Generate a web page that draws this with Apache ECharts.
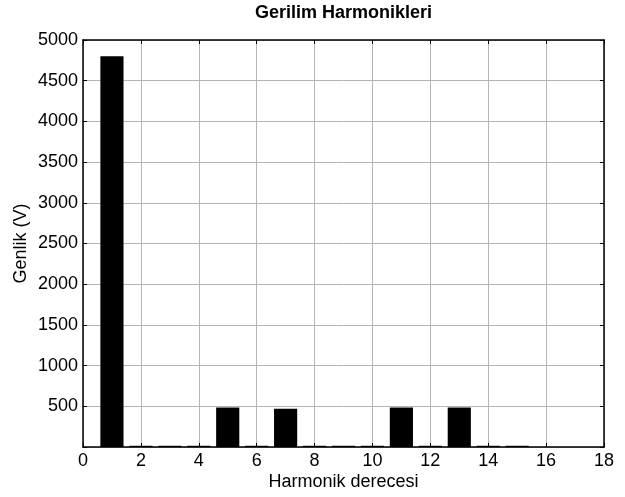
<!DOCTYPE html>
<html>
<head>
<meta charset="utf-8">
<script src="https://cdn.jsdelivr.net/npm/echarts@6/dist/echarts.min.js"></script>
<style>
  html, body { margin: 0; padding: 0; background: #fff; }
  #chart { width: 625px; height: 497px; }
</style>
</head>
<body>
<div id="chart"></div>
<script>
// Harmonic orders and their voltage amplitudes (V)
const harmonicOrders = [1, 2, 3, 4, 5, 6, 7, 8, 9, 10, 11, 12, 13, 14, 15, 16, 17];
const amplitudes     = [4800, 15, 15, 15, 485, 15, 470, 15, 15, 15, 485, 15, 485, 15, 15, 0, 0];
const xTicks = [0, 2, 4, 6, 8, 10, 12, 14, 16, 18];
const yTicks = [500, 1000, 1500, 2000, 2500, 3000, 3500, 4000, 4500, 5000];

const FONT = '"Liberation Sans", Arial, sans-serif';
const chart = echarts.init(document.getElementById('chart'), null, { renderer: 'canvas' });

const gridLeft = 83, gridRight = 21, gridTop = 40, gridBottom = 50;
const plotW = 625 - gridLeft - gridRight;
const xMin = xTicks[0], xMax = xTicks[xTicks.length - 1];
const barW = 0.8 * plotW / (xMax - xMin);

const tickStyle = { show: true, inside: true, length: 4, lineStyle: { color: '#000', width: 1 } };
const gridStyle = { show: true, lineStyle: { color: '#b4b4b4', width: 1, type: 'solid' } };
const labelStyle = { fontFamily: FONT, fontSize: 18, color: '#000' };

chart.setOption({
  animation: false,
  backgroundColor: '#fff',
  graphic: [{
    type: 'text',
    x: gridLeft + plotW / 2,
    y: 13,
    style: {
      text: 'Gerilim Harmonikleri',
      font: 'bold 18px ' + FONT,
      fill: '#000',
      textAlign: 'center',
      textVerticalAlign: 'middle'
    }
  }],
  grid: { left: gridLeft, right: gridRight, top: gridTop, bottom: gridBottom, containLabel: false },
  xAxis: [{
    type: 'value',
    min: xMin, max: xMax, interval: 2,
    name: 'Harmonik derecesi',
    nameLocation: 'middle',
    nameGap: 26,
    nameMoveOverlap: false,
    nameTextStyle: labelStyle,
    axisLine: { show: true, onZero: false, lineStyle: { color: '#000', width: 1.5 } },
    axisTick: tickStyle,
    axisLabel: Object.assign({ margin: 5, formatter: v => xTicks.includes(v) ? String(v) : '' }, labelStyle),
    splitLine: gridStyle
  }, {
    type: 'value', position: 'top',
    min: xMin, max: xMax, interval: 2,
    axisLine: { show: true, onZero: false, lineStyle: { color: '#000', width: 1.5 } },
    axisTick: tickStyle,
    axisLabel: { show: false },
    splitLine: { show: false }
  }],
  yAxis: [{
    type: 'value',
    min: 0, max: 5000, interval: 500,
    name: 'Genlik (V)',
    nameLocation: 'middle',
    nameGap: 53,
    nameMoveOverlap: false,
    nameTextStyle: labelStyle,
    axisLine: { show: true, onZero: false, lineStyle: { color: '#000', width: 1.5 } },
    axisTick: tickStyle,
    axisLabel: Object.assign({ margin: 5, formatter: v => yTicks.includes(v) ? String(v) : '' }, labelStyle),
    splitLine: gridStyle
  }, {
    type: 'value', position: 'right',
    min: 0, max: 5000, interval: 500,
    axisLine: { show: true, onZero: false, lineStyle: { color: '#000', width: 1.5 } },
    axisTick: tickStyle,
    axisLabel: { show: false },
    splitLine: { show: false }
  }],
  series: [{
    type: 'bar',
    xAxisIndex: 0,
    yAxisIndex: 0,
    barWidth: barW,
    itemStyle: { color: '#000' },
    data: harmonicOrders.map((h, i) => [h, amplitudes[i]])
  }]
});
</script>
</body>
</html>
